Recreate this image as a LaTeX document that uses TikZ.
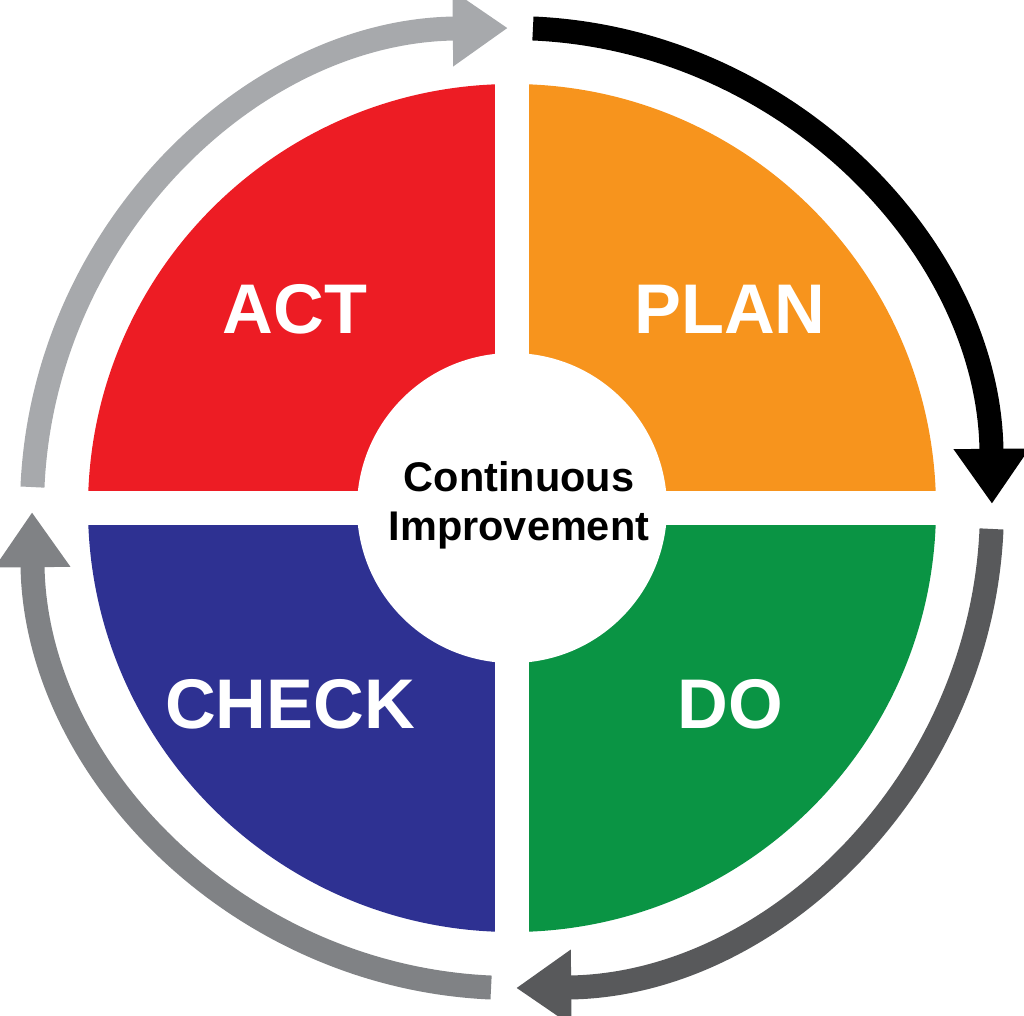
\documentclass[tikz,border=0pt]{standalone}
\usepackage{fontspec}
\setmainfont{Liberation Sans}
\usetikzlibrary{arrows.meta}
\usetikzlibrary{positioning}
\definecolor{actred}{HTML}{ED1C24}
\definecolor{planorange}{HTML}{F7941D}
\definecolor{dogreen}{HTML}{0A9444}
\definecolor{checkblue}{HTML}{2E3192}
\definecolor{darkarrow}{HTML}{58595B}
\definecolor{midarrow}{HTML}{808285}
\definecolor{lightarrow}{HTML}{A7A9AC}
\begin{document}
\begin{tikzpicture}[
  cycle/.style={line width=0.24cm,-{Triangle[length=0.55cm,width=0.72cm]}},
  phase/.style={text=white,font=\bfseries\fontsize{20}{24}\selectfont},
  hub/.style={font=\bfseries\fontsize{11.8}{14}\selectfont,align=center}
]
\useasboundingbox (-5.12,-5.07) rectangle (5.12,5.08);

\fill[planorange] (0,0) -- (0:4.24) arc (0:90:4.24) -- cycle;
\fill[actred] (0,0) -- (90:4.24) arc (90:180:4.24) -- cycle;
\fill[checkblue] (0,0) -- (180:4.24) arc (180:270:4.24) -- cycle;
\fill[dogreen] (0,0) -- (270:4.24) arc (270:360:4.24) -- cycle;
\draw[white,line width=0.34cm] (-4.4,0) -- (4.4,0);
\draw[white,line width=0.34cm] (0,-4.4) -- (0,4.4);
\fill[white] (0,0) circle (1.55);

\draw[cycle,black] (87.5:4.8) arc (87.5:0.5:4.8);
\draw[cycle,darkarrow] (-2.5:4.8) arc (-2.5:-89.5:4.8);
\draw[cycle,midarrow] (-92.5:4.8) arc (-92.5:-179.5:4.8);
\draw[cycle,lightarrow] (177.5:4.8) arc (177.5:90.5:4.8);

\node[phase] (act) at (-2.17,1.99) {ACT};
\node[phase] (plan) at (2.18,1.99) {PLAN};
\node[phase] (check) at (-2.22,-1.96) {CHECK};
\node[phase] (do) at (2.18,-1.96) {DO};
\node[hub] (ci) at (0.07,0.03) {Continuous\\Improvement};

\end{tikzpicture}
\end{document}
